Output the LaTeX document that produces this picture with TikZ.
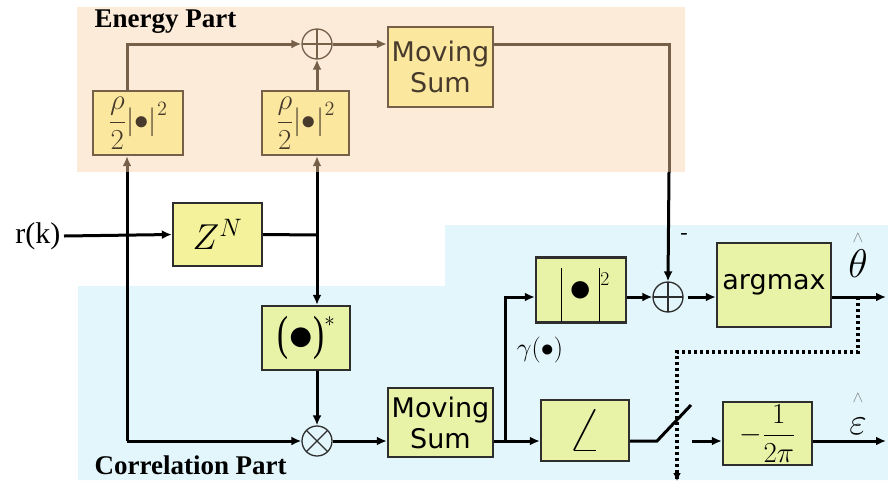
\RequirePackage{fix-cm}
\documentclass[tikz,border=0pt]{standalone}
\usepackage{fontspec}
\setmainfont{Liberation Serif}
\newfontfamily\dvs{DejaVu Sans}
\usetikzlibrary{arrows.meta,calc}
\definecolor{peach}{HTML}{FDEBD9}
\definecolor{skyb}{HTML}{E2F6FC}
\definecolor{ebox}{HTML}{FBE89E}
\definecolor{brn}{HTML}{76604A}
\definecolor{zbox}{HTML}{F4F29A}
\definecolor{cbox}{HTML}{E8F3A8}
\definecolor{dk}{HTML}{2E2E2E}
\newcommand{\bigdot}[1]{\hbox{\scalebox{#1}{$\bullet$}}}
\tikzset{
  ebx/.style={draw=brn, fill=ebox, line width=2.4pt, inner sep=0pt, text=brn!60!black},
  cbx/.style={draw=dk, fill=cbox, line width=2.4pt, inner sep=0pt},
  zbx/.style={draw=dk, fill=zbox, line width=2.4pt, inner sep=0pt},
  arr/.style={line width=3pt, -{Latex[length=10pt,width=9pt]}},
  ln/.style={line width=3pt},
  barr/.style={arr, draw=brn},
  bln/.style={ln, draw=brn},
  dotl/.style={line width=3.4pt, dash pattern=on 3pt off 3pt},
  plusc/.style={circle, draw=#1, line width=1.3pt, minimum size=30pt, inner sep=0pt,
    path picture={\draw[#1, line width=1.3pt] (path picture bounding box.north) -- (path picture bounding box.south)
      (path picture bounding box.west) -- (path picture bounding box.east);}},
  timesc/.style={circle, draw=#1, line width=1.3pt, minimum size=30pt, inner sep=0pt,
    path picture={\draw[#1, line width=1.3pt] (path picture bounding box.north east) -- (path picture bounding box.south west)
      (path picture bounding box.north west) -- (path picture bounding box.south east);}},
  sumfont/.style={font=\dvs\fontsize{27}{31}\selectfont, align=center},
  ttl/.style={font=\bfseries\fontsize{27}{27}\selectfont, anchor=west},
}
\begin{document}
\begin{tikzpicture}[x=1pt,y=-1pt]
\useasboundingbox (0,0) rectangle (888,483);
% backgrounds
\fill[peach] (77,7) rectangle (685,172);
\fill[skyb] (78,286) -- (445,286) -- (445,225) -- (888,225) -- (888,480) -- (78,480) -- cycle;

% titles
\node[ttl] (et) at (91,22) {Energy Part};
\node[ttl] (ct) at (91,465) {Correlation Part};
\node[anchor=east, font=\fontsize{30}{30}\selectfont] (rk) at (64,236) {r(k)};

% energy part
\node[ebx, minimum width=90pt, minimum height=64pt, font=\fontsize{20}{20}\selectfont] (rho1) at (138,123) {\scalebox{1.45}{$\displaystyle\frac{\rho}{2}\bigl|\bullet\bigr|^{2}$}};
\node[ebx, minimum width=87pt, minimum height=64pt, font=\fontsize{20}{20}\selectfont] (rho2) at (305.5,123) {\scalebox{1.45}{$\displaystyle\frac{\rho}{2}\bigl|\bullet\bigr|^{2}$}};
\node[plusc=brn, fill=peach] (sum1) at (317,44) {};
\node[ebx, minimum width=105pt, minimum height=80pt, sumfont] (ms1) at (440.5,67) {Moving\\Sum};

% correlation part
\node[zbx, minimum width=89pt, minimum height=63pt, font=\fontsize{36}{36}\selectfont] (zn) at (217.5,234.5) {$Z^{N}$};
\node[cbx, minimum width=88pt, minimum height=64pt, font=\fontsize{30}{30}\selectfont] (conj) at (306,338) {\raisebox{1pt}{\scalebox{1.1}[1.6]{(}}\bigdot{1.7}\raisebox{1pt}{\scalebox{1.1}[1.6]{)}}\raisebox{24pt}{$\scriptstyle *$}};
\node[timesc=dk, fill=skyb] (ot) at (317,441) {};
\node[cbx, minimum width=105pt, minimum height=69pt, sumfont] (ms2) at (440.5,422.5) {Moving\\Sum};
\node[cbx, minimum width=90pt, minimum height=65pt, font=\fontsize{28}{28}\selectfont] (abs) at (581,290) {};
\node[font=\fontsize{28}{28}\selectfont, inner sep=0pt, anchor=south] (absin) at (585,322) {\rule{1.6pt}{54pt}\hspace{7pt}\raisebox{20pt}{\bigdot{1.6}}\hspace{7pt}\rule{1.6pt}{54pt}\raisebox{36pt}{$\scriptstyle 2$}};
\node[plusc=dk, fill=skyb] (op) at (668,297) {};
\node[cbx, minimum width=114pt, minimum height=84pt, font=\dvs\fontsize{27}{27}\selectfont] (am) at (774,285) {argmax};
\node[cbx, minimum width=88pt, minimum height=61pt, font=\fontsize{40}{40}\selectfont] (ang) at (585,430.5) {\scalebox{1.6}{$\angle$}};
\node[cbx, minimum width=89pt, minimum height=63pt, font=\fontsize{20}{20}\selectfont] (m2pi) at (767.5,433.5) {\scalebox{1.45}{$\displaystyle-\frac{1}{2\pi}$}};

% labels
\node[font=\fontsize{26}{26}\selectfont] (gl) at (540,350) {$\gamma(\bullet)$};
\node[font=\fontsize{22}{22}\selectfont] (minus) at (684,236) {-};
\node[font=\fontsize{40}{40}\selectfont] (th) at (858,264) {$\theta$};
\node[font=\fontsize{16}{16}\selectfont, text=gray] (thh) at (858,238) {$\wedge$};
\node[font=\fontsize{38}{38}\selectfont] (ep) at (858,426) {$\varepsilon$};
\node[font=\fontsize{16}{16}\selectfont, text=gray] (eph) at (858,398) {$\wedge$};

% coordinates
\coordinate (c1) at (127,441);
\coordinate (c1t) at (127,172);
\coordinate (c2) at (317,235);
\coordinate (c2t) at (317,172);
\coordinate (e1) at (669,44);
\coordinate (e2) at (669,172);
\coordinate (j) at (505,441);
\coordinate (out1) at (886,297);
\coordinate (out2) at (886,441);
\coordinate (sw1) at (657,441);
\coordinate (sw2) at (691,405);
\coordinate (sw3) at (692,441);
\coordinate (d0) at (858,297);
\coordinate (d1) at (858,352);
\coordinate (d2) at (677,352);
\coordinate (d3) at (677,481);

% energy connectors
\draw[barr] (rho1.north -| c1) |- (sum1.west);
\draw[barr] (rho2.north -| sum1) -- (sum1.south);
\draw[barr] (sum1.east) -- (ms1.west |- sum1);
\draw[bln] (ms1.east |- sum1) -- (e1) -- (e2);
\draw[arr] (e2) -- (op.north);
\draw[ln] (c1) -- (c1t);
\draw[barr] (c1t) -- (rho1.south -| c1);
\draw[ln] (c2) -- (c2t);
\draw[barr] (c2t) -- (rho2.south -| c2);

% correlation connectors
\draw[arr] (rk.east) -- (zn.west);
\draw[ln] (zn.east) -- (c2);
\draw[arr] (c2) -- (conj.north -| c2);
\draw[arr] (conj.south -| ot) -- (ot.north);
\draw[arr] (c1) -- (ot.west);
\draw[arr] (ot.east) -- (ms2.west |- ot);
\draw[ln] (ms2.east |- ot) -- (j);
\draw[arr] (j) -- (ang.west |- ot);
\draw[arr] (j) |- (abs.west |- op);
\draw[arr] (abs.east |- op) -- (op.west);
\draw[arr] (op.east) ++(4,0) -- (am.west |- op);
\draw[arr] (am.east |- op) -- (out1);
\draw[ln] (ang.east |- ot) -- (sw1) -- (sw2);
\draw[arr] (sw3) -- (m2pi.west |- ot);
\draw[arr] (m2pi.east |- ot) -- (out2);
\draw[dotl] (d0) -- (d1) -- (d2) -- (d3);
\draw[line width=2pt, -{Latex[length=8pt,width=8pt]}] ($(d3)+(0,-6)$) -- (d3);
\end{tikzpicture}
\end{document}
